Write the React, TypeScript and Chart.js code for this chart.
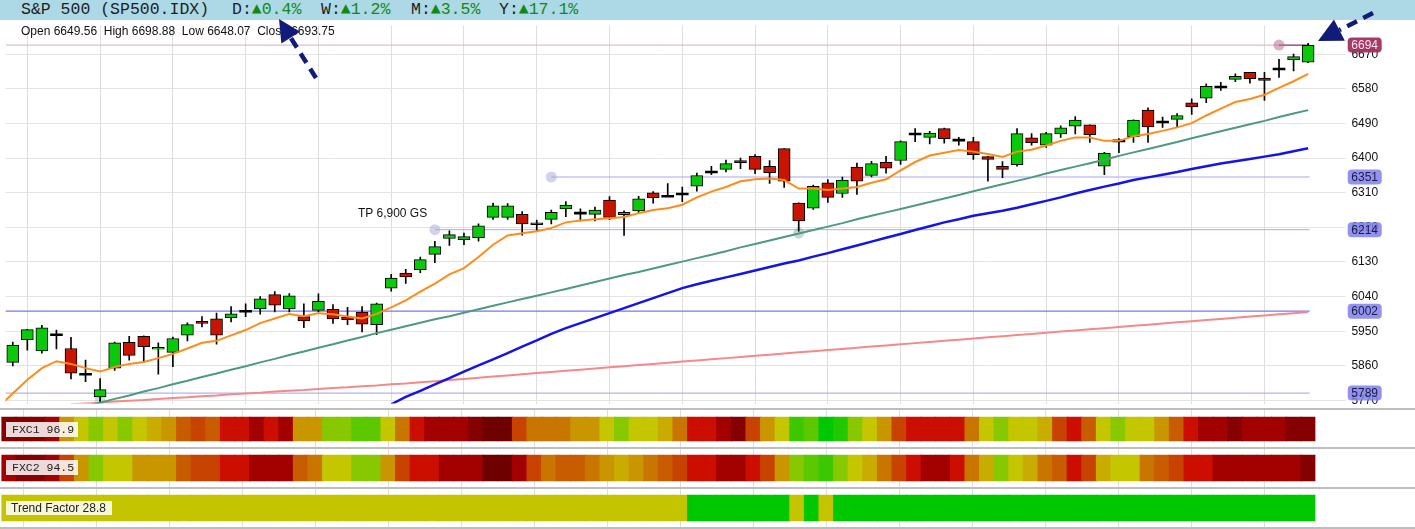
import React, { useEffect, useRef } from 'react';
import { Chart, registerables } from 'chart.js';
Chart.register(...registerables);

// ---------------- data ----------------
const opens = [5869,5928,5899,5941,5905,5838,5779,5854,5921,5937, 5903,5895,5940,5976,5982,5985,6002,6008,6045,6008, 5988,6004,6007,5987,6000,5967,6062,6101,6110,6150, 6191,6188,6193,6246,6246,6254,6232,6241,6268,6257, 6254,6291,6253,6263,6310,6301,6307,6327,6364,6371, 6394,6405,6379,6425,6283,6270,6336,6308,6377,6355, 6389,6394,6463,6454,6477,6447,6443,6404,6379,6383, 6453,6434,6463,6483,6487,6379,6445,6456,6525,6494, 6501,6544,6556,6585,6605,6623,6608,6632,6656,6649.56];
const highs = [5922,5955,5965,5953,5934,5875,5827,5922,5937,5938, 5920,5935,5972,5988,5997,6014,6021,6040,6053,6048, 6021,6047,6019,6012,6014,6023,6098,6111,6143,6184, 6211,6205,6229,6283,6282,6261,6239,6265,6287,6268, 6273,6300,6263,6301,6313,6334,6325,6361,6379,6395, 6400,6409,6394,6425,6284,6330,6344,6351,6387,6392, 6405,6445,6477,6470,6478,6454,6454,6405,6391,6477, 6464,6467,6484,6508,6487,6415,6451,6500,6531,6507, 6516,6554,6593,6597,6619,6623,6623,6657,6671,6698.88];
const lows = [5860,5901,5893,5904,5826,5819,5767,5848,5875,5869, 5838,5858,5925,5961,5916,5974,5988,5994,6000,6000, 5959,6000,5970,5967,5948,5941,6054,6074,6102,6128, 6173,6175,6184,6241,6241,6200,6212,6229,6248,6237, 6237,6240,6199,6257,6283,6300,6287,6314,6357,6364, 6373,6360,6334,6324,6210,6267,6285,6298,6306,6351, 6361,6384,6443,6437,6439,6434,6397,6340,6349,6379, 6434,6428,6454,6463,6441,6357,6414,6441,6441,6480, 6480,6514,6544,6576,6599,6595,6550,6610,6627,6648.07];
const closes = [5914,5954,5959,5941,5841,5838,5798,5920,5887,5910, 5908,5931,5967,5970,5940,5995,6002,6034,6018,6042, 5977,6028,5982,5980,5968,6021,6088,6091,6136,6170, 6201,6196,6224,6276,6276,6229,6227,6259,6278,6257, 6265,6246,6259,6294,6297,6301,6307,6355,6364,6386, 6388,6371,6362,6340,6237,6327,6298,6343,6340,6386, 6374,6443,6463,6465,6451,6447,6409,6397,6371,6464, 6440,6464,6479,6499,6461,6413,6445,6499,6481,6494, 6511,6533,6587,6585,6613,6607,6602,6632,6664,6693.75];

// moving averages (each with the candle index of its first value)
const maFastStart = -1;
const maFast = [5752,5788,5824,5854,5872,5865,5854,5845,5857,5865, 5870,5880,5891,5905,5920,5925,5939,5953,5971,5983, 5995,5989,5997,5994,5988,5983,5995,6012,6030,6053, 6074,6098,6114,6143,6175,6199,6205,6210,6218,6233, 6238,6241,6244,6247,6257,6265,6270,6279,6298,6313, 6325,6340,6345,6347,6343,6321,6321,6317,6321,6325, 6336,6345,6368,6390,6407,6414,6421,6417,6411,6403, 6417,6422,6433,6445,6454,6454,6445,6445,6457,6463, 6471,6480,6491,6511,6529,6546,6554,6565,6583,6600, 6619];
const maMidStart = 26;
const maMid = [5760,5779,5795,5812,5828,5845,5861,5877,5893,5910, 5926,5943,5958,5971,5984,5997,6010,6023,6036,6049, 6062,6072,6081,6090,6099,6108,6117,6126,6134,6144, 6153,6163,6173,6183,6193,6203,6213,6223,6233,6241, 6250,6257,6263,6271,6280,6289,6298,6308,6317,6326, 6334,6343,6350,6357,6364,6372,6379,6386,6392,6398, 6404,6410,6418,6426];
const maSlowStart = 5;
const maSlow = [5755,5764,5774,5783,5793,5802,5812,5821,5831,5840, 5850,5859,5869,5878,5888,5897,5907,5916,5926,5935, 5945,5954,5963,5972,5981,5989,5998,6007,6016,6025, 6034,6042,6051,6060,6069,6078,6087,6096,6104,6113, 6122,6131,6140,6149,6158,6168,6177,6186,6195,6204, 6213,6222,6231,6241,6250,6259,6268,6277,6286,6295, 6304,6314,6323,6332,6341,6350,6360,6369,6378,6387, 6396,6406,6415,6424,6433,6442,6452,6461,6470,6479, 6488,6497,6507,6516,6525];
const maLongStart = 4;
const maLong = [5760,5762,5764,5767,5769,5771,5774,5776,5778,5781, 5783,5786,5788,5790,5793,5795,5797,5800,5802,5804, 5807,5809,5812,5814,5817,5820,5823,5826,5829,5832, 5835,5838,5841,5844,5847,5850,5853,5856,5859,5862, 5865,5868,5871,5874,5877,5880,5883,5886,5889,5892, 5895,5898,5901,5904,5907,5910,5913,5916,5919,5922, 5925,5928,5931,5934,5937,5940,5943,5946,5949,5952, 5955,5958,5961,5964,5967,5970,5973,5976,5979,5982, 5985,5988,5991,5994,5997,6000];

const yTicks = [5770, 5860, 5950, 6040, 6130, 6220, 6310, 6400, 6490, 6580, 6670];
const yMin = 5762;
const yMax = 6745;
const gridIdx = [1, 6, 11, 16, 21, 26, 31, 36, 41, 46, 51, 56, 61, 66, 71, 76, 81, 86];

const lastPrice = 6694;
const levelValues = [6351, 6214, 6002, 5789];
const levelStarts = [37, 29, -0.5, -0.5];
const levelColors = ['#a6a6f2', '#adade2', '#7474ff', '#9e9ef0'];

const markerX = [87, 37, 29, 54, 6];
const markerY = [6694, 6351, 6214, 6205, 5772];
const markerColors = ['rgba(190,110,150,0.55)', 'rgba(165,165,220,0.5)', 'rgba(165,165,220,0.5)', 'rgba(120,170,145,0.45)', 'rgba(120,170,145,0.35)'];

// heat strips: palette level per candle
const palette = ['#6e0000','#850000','#a30000','#cc0e00','#c84200','#c85c00','#c97600','#c99600','#c9ac00','#c4c600','#88c800','#5cc800','#3cc800','#22c800','#00c800'];
const fxc1 = [1,1,1,2,7,9,10,9,10,9, 8,7,5,4,5,3,3,2,3,2, 7,7,10,10,11,11,9,6,3,2, 2,2,1,0,0,4,6,6,6,7, 7,9,10,9,9,8,6,3,3,2, 1,4,7,9,12,11,14,13,10,9, 7,4,3,3,3,3,6,9,10,9, 9,8,4,3,5,9,10,9,9,7, 5,3,2,2,1,2,2,2,1,1];
const fxc2 = [2,1,1,2,4,7,10,9,9,7, 7,7,5,4,4,3,3,2,2,2, 5,6,9,9,10,10,7,4,3,3, 2,2,2,0,0,2,4,6,5,5, 6,7,8,7,6,5,4,3,3,2, 2,3,4,7,10,11,12,10,9,8, 6,4,3,2,2,3,6,8,10,9, 8,6,5,3,4,8,9,9,6,5, 4,3,3,2,2,2,2,2,2,1];
const trendColors = ['#c4c400', '#00c800'];
const trend = [0,0,0,0,0,0,0,0,0,0, 0,0,0,0,0,0,0,0,0,0, 0,0,0,0,0,0,0,0,0,0, 0,0,0,0,0,0,0,0,0,0, 0,0,0,0,0,0,0,1,1,1, 1,1,1,1,0,1,0,1,1,1, 1,1,1,1,1,1,1,1,1,1, 1,1,1,1,1,1,1,1,1,1, 1,1,1,1,1,1,1,1,1,1];

const headerTitle = 'S&P 500 (SP500.IDX)';
const changeLabels = ['D:', 'W:', 'M:', 'Y:'];
const changeValues = ['0.4%', '1.2%', '3.5%', '17.1%'];
const ohlcText = 'Open 6649.56  High 6698.88  Low 6648.07  Close 6693.75';
const fxc1Label = 'FXC1 96.9';
const fxc2Label = 'FXC2 94.5';
const trendLabel = 'Trend Factor 28.8';
const tpLabel = 'TP 6,900 GS';

// ---------------- styles ----------------
const SANS = '"Liberation Sans", Arial, sans-serif';
const MONO = '"Liberation Mono", "DejaVu Sans Mono", monospace';
const GREEN = '#0ac80a';
const RED = '#c81400';

const pts = (values: number[], start: number) => values.map((v, k) => ({ x: k + start, y: v }));

const zeroPad = (s: any) => {
  s.paddingLeft = 0;
  s.paddingRight = 0;
  s.paddingTop = 0;
  s.paddingBottom = 0;
};

const tagPlugin = {
  id: 'priceTags',
  afterDraw(chart: any) {
    const { ctx, chartArea } = chart;
    const ys = chart.scales.y;
    const tags = [{ v: lastPrice, bg: 'rgba(160,44,90,0.93)', fg: '#f4e8ee' }].concat(
      levelValues.map((v) => ({ v, bg: 'rgba(128,128,238,0.86)', fg: '#1c1c40' }))
    );
    tags.forEach((t) => {
      const py = ys.getPixelForValue(t.v);
      const x = chartArea.right + 32.3;
      const w = 34;
      const h = 15;
      ctx.save();
      ctx.fillStyle = t.bg;
      ctx.beginPath();
      ctx.roundRect(x, py - h / 2, w, h, 4);
      ctx.fill();
      ctx.fillStyle = t.fg;
      ctx.font = '12px ' + SANS;
      ctx.textAlign = 'center';
      ctx.textBaseline = 'middle';
      ctx.fillText(String(t.v), x + w / 2, py + 0.5);
      ctx.restore();
    });
  },
};

export default function App() {
  const mainRef = useRef<HTMLCanvasElement>(null);
  const stripRef = useRef<HTMLCanvasElement>(null);

  useEffect(() => {
    document.body.style.margin = '0';
    const idx = opens.map((_, i) => i);
    const lineEnd = idx.length - 1 + 0.1;
    const xMin = -0.5;
    const xMax = idx.length - 0.5;

    const xScale = () => ({
      type: 'linear',
      min: xMin,
      max: xMax,
      offset: false,
      grid: { color: '#dedede', drawTicks: false, offset: false },
      border: { display: false },
      ticks: { display: false },
      afterBuildTicks: (s: any) => { s.ticks = gridIdx.map((v) => ({ value: v })); },
      afterFit: (s: any) => { s.height = 0; zeroPad(s); },
    });

    const levelSets = levelValues.map((v, k) => ({
      type: 'line',
      data: [{ x: levelStarts[k], y: v }, { x: lineEnd, y: v }],
      borderColor: levelColors[k],
      borderWidth: k === 2 ? 1.3 : 1,
      pointRadius: 0,
      order: 8,
    }));

    const main = new Chart(mainRef.current as HTMLCanvasElement, {
      type: 'bar',
      data: {
        datasets: [
          ...levelSets,
          {
            type: 'line',
            data: [{ x: xMin, y: lastPrice }, { x: lineEnd, y: lastPrice }],
            borderColor: '#dcaabd',
            borderWidth: 1,
            pointRadius: 0,
            order: 8,
          },
          {
            type: 'line',
            data: [{ x: markerX[0], y: lastPrice }, { x: lineEnd, y: lastPrice }],
            borderColor: '#8a1d4e',
            borderWidth: 1,
            pointRadius: 0,
            order: 7,
          },
          {
            type: 'line',
            data: markerX.map((x, k) => ({ x, y: markerY[k] })),
            showLine: false,
            pointRadius: 5.5,
            pointBorderWidth: 0,
            pointBackgroundColor: markerColors,
            order: 6,
          },
          {
            type: 'bar',
            data: idx.map((i) => ({ x: i, y: [lows[i], highs[i]] })),
            backgroundColor: '#000',
            barThickness: 1,
            grouped: false,
            borderSkipped: false,
            order: 5,
          },
          {
            type: 'bar',
            data: idx.map((i) =>
              opens[i] === closes[i]
                ? { x: i, y: [opens[i] - 2.5, opens[i] + 2.5] }
                : { x: i, y: [opens[i], closes[i]] }
            ),
            backgroundColor: idx.map((i) => (closes[i] > opens[i] ? GREEN : closes[i] < opens[i] ? RED : '#000')),
            borderColor: '#000',
            borderWidth: idx.map((i) => (opens[i] === closes[i] ? 0 : 1)),
            borderSkipped: false,
            barThickness: 12,
            grouped: false,
            order: 4,
          },
          { type: 'line', data: pts(maLong, maLongStart), borderColor: '#f4898b', borderWidth: 2, pointRadius: 0, order: 3 },
          { type: 'line', data: pts(maMid, maMidStart), borderColor: '#1414e6', borderWidth: 2.5, pointRadius: 0, order: 2 },
          { type: 'line', data: pts(maSlow, maSlowStart), borderColor: '#4f9a7e', borderWidth: 2, pointRadius: 0, order: 2 },
          { type: 'line', data: pts(maFast, maFastStart), borderColor: '#ff8c1a', borderWidth: 2, pointRadius: 0, order: 1 },
        ] as any,
      },
      options: {
        responsive: false,
        animation: false,
        devicePixelRatio: 1,
        events: [],
        layout: { padding: { left: 1.4, right: 0, top: 2, bottom: 5 } },
        plugins: { legend: { display: false }, tooltip: { enabled: false } },
        scales: {
          x: xScale() as any,
          y: {
            type: 'linear',
            position: 'right',
            min: yMin,
            max: yMax,
            grid: { color: '#e3e3e3', tickLength: 30, drawTicks: true },
            border: { display: false },
            ticks: {
              color: '#111',
              padding: 6,
              font: { family: SANS, size: 12 },
              callback: (v: any) => String(v),
            },
            afterBuildTicks: (s: any) => { s.ticks = yTicks.map((v) => ({ value: v })); },
            afterFit: (s: any) => { s.width = 99.6; zeroPad(s); },
          } as any,
        },
      },
      plugins: [tagPlugin],
    } as any);

    const band = (levels: number[], colors: string[], lo: number, hi: number) => ({
      type: 'bar',
      data: levels.map((_, i) => ({ x: i, y: [lo, hi] })),
      backgroundColor: levels.map((l) => colors[l]),
      barThickness: 15,
      grouped: false,
      borderSkipped: false,
      borderWidth: 0,
    });

    const strip = new Chart(stripRef.current as HTMLCanvasElement, {
      type: 'bar',
      data: {
        datasets: [
          band(fxc1, palette, 88, 112),
          band(fxc2, palette, 48, 74),
          band(trend, trendColors, 8, 34),
        ] as any,
      },
      options: {
        responsive: false,
        animation: false,
        devicePixelRatio: 1,
        events: [],
        layout: { padding: { left: 1.4, right: 99.6, top: 0, bottom: 0 } },
        plugins: { legend: { display: false }, tooltip: { enabled: false } },
        scales: {
          x: xScale() as any,
          y: { type: 'linear', display: false, min: 0, max: 120 } as any,
        },
      },
    } as any);

    return () => {
      main.destroy();
      strip.destroy();
    };
  }, []);

  const changeX = [232, 321, 411, 499];
  const sep = (top: number) => (
    <div key={top} style={{ position: 'absolute', left: 0, top, width: 1415, height: 2, background: '#bdbdbd' }} />
  );
  const arrow = (tail: [number, number], tip: [number, number], head: number, half: number) => {
    const dx = tip[0] - tail[0];
    const dy = tip[1] - tail[1];
    const len = Math.hypot(dx, dy);
    const ux = dx / len;
    const uy = dy / len;
    const nx = tip[0] - ux * head;
    const ny = tip[1] - uy * head;
    const px = -uy;
    const py = ux;
    return (
      <g>
        <line x1={tail[0]} y1={tail[1]} x2={nx} y2={ny} stroke="#111c78" strokeWidth={4.5} strokeDasharray="11 7" />
        <polygon
          points={`${tip[0]},${tip[1]} ${nx + px * half},${ny + py * half} ${nx - px * half},${ny - py * half}`}
          fill="#111c78"
        />
      </g>
    );
  };

  return (
    <div style={{ position: 'relative', width: 1415, height: 529, overflow: 'hidden', background: '#fff' }}>
      <div style={{ position: 'absolute', left: 0, top: 0, width: 1415, height: 20, background: '#add8e6', fontFamily: MONO, fontSize: 16.5, lineHeight: '20px', color: '#1e1e1e', whiteSpace: 'pre' }}>
        <span style={{ position: 'absolute', left: 21, top: 0 }}>{headerTitle}</span>
        {changeLabels.map((l, k) => (
          <span key={l} style={{ position: 'absolute', left: changeX[k], top: 0 }}>
            {l}
            <span style={{ color: '#118a11' }}>{'▲' + changeValues[k]}</span>
          </span>
        ))}
      </div>
      <canvas ref={mainRef} width={1415} height={389} style={{ position: 'absolute', left: 0, top: 20, width: 1415, height: 389 }} />
      <canvas ref={stripRef} width={1415} height={120} style={{ position: 'absolute', left: 0, top: 409, width: 1415, height: 120 }} />
      <div style={{ position: 'absolute', left: 21, top: 24, fontFamily: SANS, fontSize: 12, lineHeight: '15px', color: '#111', whiteSpace: 'pre' }}>{ohlcText}</div>
      <div style={{ position: 'absolute', left: 358, top: 206, fontFamily: SANS, fontSize: 12, lineHeight: '15px', color: '#111', whiteSpace: 'pre' }}>{tpLabel}</div>
      {[408, 447, 487, 527].map(sep)}
      <div style={{ position: 'absolute', left: 6, top: 422, width: 72, height: 15, background: 'rgba(255,255,255,0.85)', fontFamily: MONO, fontSize: 11.5, lineHeight: '15px', color: '#222', paddingLeft: 6, boxSizing: 'border-box', whiteSpace: 'pre' }}>{fxc1Label}</div>
      <div style={{ position: 'absolute', left: 6, top: 460, width: 72, height: 15, background: 'rgba(255,255,255,0.85)', fontFamily: MONO, fontSize: 11.5, lineHeight: '15px', color: '#222', paddingLeft: 6, boxSizing: 'border-box', whiteSpace: 'pre' }}>{fxc2Label}</div>
      <div style={{ position: 'absolute', left: 6, top: 501, width: 106, height: 14, background: 'rgba(255,255,255,0.85)', fontFamily: SANS, fontSize: 12, lineHeight: '14px', color: '#222', paddingLeft: 5, boxSizing: 'border-box', whiteSpace: 'pre' }}>{trendLabel}</div>
      <svg width={1415} height={529} style={{ position: 'absolute', left: 0, top: 0, pointerEvents: 'none' }}>
        {arrow([316, 78], [279, 19], 22, 11)}
        {arrow([1373, 13], [1318, 41], 24, 12)}
      </svg>
    </div>
  );
}
